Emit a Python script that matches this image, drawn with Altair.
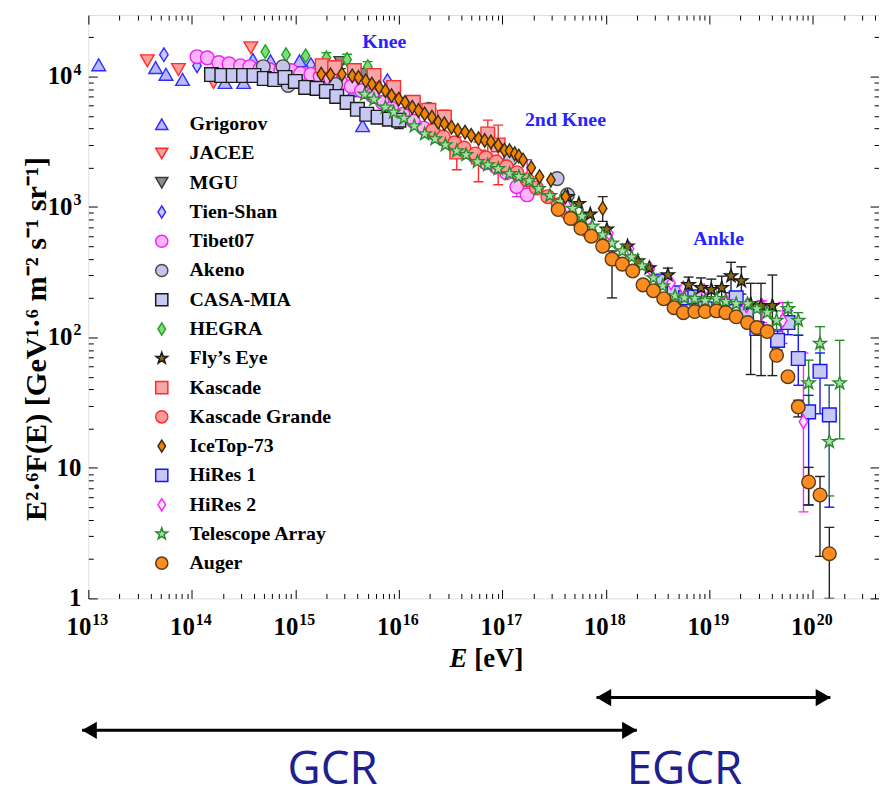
import altair as alt
import pandas as pd

FONT = "Liberation Serif"

# ---------------- legend / styling tables ----------------
experiments = ["Grigorov", "JACEE", "MGU", "Tien-Shan", "Tibet07", "Akeno", "CASA-MIA", "HEGRA",
               "Fly’s Eye", "Kascade", "Kascade Grande", "IceTop-73", "HiRes 1", "HiRes 2",
               "Telescope Array", "Auger"]
DIAMOND = "M0,-1L0.62,0L0,1L-0.62,0Z"
STAR = ("M0,-1L0.235,-0.324L0.951,-0.309L0.38,0.124L0.588,0.809L0,0.4L-0.588,0.809"
        "L-0.38,0.124L-0.951,-0.309L-0.235,-0.324Z")
shapes = ["triangle-up", "triangle-down", "triangle-down", DIAMOND, "circle", "circle", "square",
          DIAMOND, STAR, "square", "circle", DIAMOND, "square", DIAMOND, STAR, "circle"]
fills = ["#b8b8ff", "#ff9c9c", "#8c8c8c", "#c8c8ff", "#ffb4ff", "#c4c4ea", "#c8c8f4", "#7ede7e",
         "#8b6a10", "#f6a6a6", "#ff9a9a", "#f08400", "#c8c8f8", "#ffe6ff", "#a8dca8", "#ff8c1e"]
strokes = ["#2d2dff", "#ff2a2a", "#3a3a3a", "#2d2dff", "#ee22ee", "#4a4a4a", "#1a1a1a", "#22a022",
           "#1a1a1a", "#ff2a2a", "#ff2a2a", "#3a2a14", "#1414ff", "#ff22ff", "#2a8a2a", "#5a3c14"]
errcolors = ["#2d2dff", "#ff2a2a", "#222222", "#2d2dff", "#ee22ee", "#4a4a4a", "#1a1a1a", "#22a022",
             "#222222", "#ff2a2a", "#ff2a2a", "#222222", "#1414ff", "#ff22ff", "#2a8a2a", "#222222"]
draw_order = ["Grigorov", "JACEE", "MGU", "Tien-Shan", "HEGRA", "Tibet07", "Akeno", "CASA-MIA",
              "Kascade", "Kascade Grande", "HiRes 1", "HiRes 2", "Fly’s Eye", "Telescope Array",
              "Auger", "IceTop-73"]

# ---------------- data (log10 E [eV], E^2.6 F(E)) ----------------
grigorov_logE = [13.10, 13.65, 13.75, 13.91, 14.32, 14.50, 14.59, 14.76, 15.04, 15.57, 15.65]
grigorov_F = [12300, 11700, 10400, 9500, 9000, 9000, 13500, 13200, 13200, 7800, 4200]

jacee_logE = [13.57, 13.87, 14.21, 14.57]
jacee_F = [13200, 11300, 9000, 16600]

mgu_logE = [15.44, 15.67, 16.00]
mgu_F = [12800, 10400, 4600]
mgu_lo = [11500, 9400, 4000]
mgu_hi = [14200, 11500, 5200]

tienshan_logE = [13.73, 14.05, 15.15, 15.89]
tienshan_F = [14700, 12100, 12300, 9300]

tibet_logE = [14.05, 14.15, 14.26, 14.36, 14.47, 14.56, 14.66, 14.75, 14.86, 14.96, 15.05, 15.15,
              15.24, 15.34, 15.44, 15.54, 15.64, 15.74, 15.84, 15.93, 16.04, 16.14, 16.24, 16.34,
              16.43, 16.54, 16.63, 16.74, 16.84, 16.94, 17.04, 17.14, 17.24]
tibet_F = [14200, 13900, 12800, 12500, 12100, 11900, 11500, 11300, 11100, 11100, 10500, 10400,
           10000, 9660, 9000, 8400, 7800, 7170, 6340, 5710, 5140, 4550, 4020, 3690,
           3320, 2990, 2690, 2420, 2180, 2030, 1830, 1430, 1240]
tibet_lo = [None] * 31 + [1200, 1140]
tibet_hi = [None] * 31 + [1800, 2300]

akeno_logE = [14.69, 14.88, 14.93, 15.39, 16.29, 17.08, 17.53, 17.63]
akeno_F = [11900, 11900, 8540, 8690, 5610, 2340, 1650, 1240]

casa_logE = [14.19, 14.29, 14.40, 14.50, 14.60, 14.70, 14.80, 14.90, 15.00, 15.10, 15.21, 15.30,
             15.40, 15.50, 15.60, 15.69, 15.80, 15.91, 16.00]
casa_F = [10350, 10180, 10180, 10180, 10180, 9660, 9490, 9830, 9170, 8250, 8110, 7690,
          7040, 6340, 5610, 5140, 4880, 4710, 4630]

hegra_logE = [14.71, 14.91, 15.10, 15.30, 15.50, 15.70]
hegra_F = [15500, 14700, 14400, 13900, 13500, 11900]
hegra_lo = [None, None, None, 12800, 12400, 10900]
hegra_hi = [None, None, None, 15200, 14800, 13000]

flyseye_logE = [17.63, 17.74, 17.85, 18.01, 18.21, 18.31, 18.42, 18.60, 18.80, 18.92, 19.02,
                19.12, 19.21, 19.31, 19.40, 19.50, 19.61]
flyseye_F = [1200, 1060, 880, 674, 501, 385, 341, 301, 253, 240, 232, 240, 296, 271, 181, 175, 175]
flyseye_lo = [None] * 7 + [250, 215, 210, 205, 205, 220, 215, 52, 51, 51]
flyseye_hi = [None] * 7 + [340, 290, 286, 280, 295, 377, 348, 260, 260, 301]

kascade_logE = [15.26, 15.38, 15.57, 15.76, 15.95, 16.14, 16.29, 16.44, 16.56, 16.77, 16.86, 16.96]
kascade_F = [12100, 11700, 11100, 10180, 8250, 6340, 5510, 4880, 2640, 2420, 3630, 2990]
kascade_lo = [None] * 7 + [4300, 1930, 1560, 2550, 1480]
kascade_hi = [None] * 7 + [5510, 3440, 3150, 4630, 4240]

kgrande_logE = [16.33, 16.43, 16.54, 16.63, 16.74, 16.84, 16.94, 17.04, 17.14, 17.24, 17.33, 17.44,
                17.54, 17.63, 17.74, 17.83]
kgrande_F = [3890, 3440, 3100, 2830, 2550, 2380, 2220, 2030, 1830, 1620, 1400, 1200,
             1040, 900, 776, 651]

icetop_logE = [15.25, 15.34, 15.45, 15.55, 15.61, 15.68, 15.74, 15.81, 15.87, 15.93, 16.00, 16.06,
               16.13, 16.19, 16.25, 16.32, 16.38, 16.44, 16.51, 16.57, 16.64, 16.70, 16.77, 16.83,
               16.89, 16.96, 17.02, 17.07, 17.12, 17.16, 17.20, 17.28, 17.36, 17.47, 17.61, 17.97]
icetop_F = [10410, 10300, 10410, 10120, 9830, 9270, 8740, 8250, 7790, 7130, 6720, 6340,
            5810, 5490, 5170, 4880, 4470, 4340, 4090, 3870, 3750, 3540, 3340, 3240,
            3150, 2970, 2720, 2700, 2560, 2450, 2290, 2000, 1710, 1610, 1200, 975]
icetop_lo = [None] * 35 + [776]
icetop_hi = [None] * 35 + [1200]

hires1_logE = [18.55, 18.66, 18.77, 18.86, 18.96, 19.26, 19.36, 19.46, 19.66, 19.76, 19.86, 19.96,
               20.07, 20.16]
hires1_F = [271, 220, 201, 205, 166, 201, 155, 117, 95, 130, 69, 26.9, 55, 25.5]
hires1_lo = [None] * 8 + [80, 105, 43, 5.2, 26, 5.0]
hires1_hi = [None] * 8 + [112, 160, 104, 36, 76, 43]

hires2_logE = [17.63, 17.83, 18.03, 18.23, 18.43, 18.63, 18.75, 18.95, 19.16, 19.36, 19.51, 19.71,
               19.91]
hires2_F = [1010, 800, 630, 478, 336, 262, 240, 228, 191, 175, 175, 135, 22.6]
hires2_lo = [None] * 10 + [130, 90, 4.6]
hires2_hi = [None] * 10 + [191, 185, 76]

ta_logE = [15.67, 15.76, 15.87, 15.95, 16.05, 16.15, 16.25, 16.35, 16.45, 16.56, 16.65, 16.76,
           16.86, 16.96, 17.07, 17.16, 17.26, 17.35, 17.46, 17.56, 17.68, 17.77, 17.87, 17.97,
           18.06, 18.16, 18.25, 18.35, 18.46, 18.55, 18.67, 18.76, 18.86, 18.96, 19.07, 19.16,
           19.26, 19.37, 19.46, 19.56, 19.65, 19.76, 19.86, 19.96, 20.07, 20.16, 20.26]
ta_F = [7300, 6680, 5810, 5320, 4790, 4170, 3630, 3320, 2990, 2690, 2510, 2220,
        2100, 1960, 1800, 1710, 1590, 1380, 1220, 1100, 975, 847, 711, 610,
        528, 459, 413, 353, 286, 248, 208, 201, 198, 191, 198, 188,
        181, 181, 166, 155, 135, 166, 135, 44.7, 90, 15.9, 44.7]
ta_lo = [None] * 40 + [115, 140, 104, 29, 55, 6.1, 16.7]
ta_hi = [None] * 40 + [160, 185, 155, 67, 121, 43, 95]

auger_logE = [17.54, 17.66, 17.76, 17.86, 17.97, 18.06, 18.16, 18.26, 18.36, 18.46, 18.56, 18.66,
              18.75, 18.86, 18.96, 19.07, 19.16, 19.26, 19.37, 19.46, 19.56, 19.65, 19.76, 19.86,
              19.96, 20.07, 20.16]
auger_F = [957, 818, 687, 597, 501, 399, 365, 323, 253, 228, 198, 169,
           155, 158, 158, 160, 155, 144, 130, 119, 111, 73, 50, 29.4,
           7.8, 6.2, 2.2]
auger_lo = [None] * 5 + [201] + [None] * 17 + [24.6, 5.2, 2.1, 1.0]
auger_hi = [None] * 5 + [460] + [None] * 17 + [33, 10.1, 8.6, 3.5]

series = {
    "Grigorov": (grigorov_logE, grigorov_F, None, None),
    "JACEE": (jacee_logE, jacee_F, None, None),
    "MGU": (mgu_logE, mgu_F, mgu_lo, mgu_hi),
    "Tien-Shan": (tienshan_logE, tienshan_F, None, None),
    "Tibet07": (tibet_logE, tibet_F, tibet_lo, tibet_hi),
    "Akeno": (akeno_logE, akeno_F, None, None),
    "CASA-MIA": (casa_logE, casa_F, None, None),
    "HEGRA": (hegra_logE, hegra_F, hegra_lo, hegra_hi),
    "Fly’s Eye": (flyseye_logE, flyseye_F, flyseye_lo, flyseye_hi),
    "Kascade": (kascade_logE, kascade_F, kascade_lo, kascade_hi),
    "Kascade Grande": (kgrande_logE, kgrande_F, None, None),
    "IceTop-73": (icetop_logE, icetop_F, icetop_lo, icetop_hi),
    "HiRes 1": (hires1_logE, hires1_F, hires1_lo, hires1_hi),
    "HiRes 2": (hires2_logE, hires2_F, hires2_lo, hires2_hi),
    "Telescope Array": (ta_logE, ta_F, ta_lo, ta_hi),
    "Auger": (auger_logE, auger_F, auger_lo, auger_hi),
}

# annotations
knee_labels = ["Knee", "2nd Knee", "Ankle"]
knee_logE = [15.86, 17.61, 19.09]
knee_F = [18300, 4630, 566]

range_labels = ["GCR", "EGCR"]
range_label_logE = [15.36, 18.76]
gcr_arrow_logE = [12.94, 18.30]
egcr_arrow_logE = [17.91, 20.17]

# tick labels: "10" with exponent
x_exponents = [13, 14, 15, 16, 17, 18, 19, 20]
y_plain_labels = ["1", "10"]
y_plain_values = [1, 10]
y_exponents = [2, 3, 4]

x_major = [10.0 ** n for n in range(13, 21)]
x_minor = [k * 10.0 ** n for n in range(13, 21) for k in range(2, 10) if k * 10.0 ** n < 10 ** 20.64]
y_major = [1, 10, 100, 1000, 10000]
y_minor = [k * 10.0 ** n for n in range(0, 5) for k in range(2, 10) if k * 10.0 ** n < 10 ** 4.47]

# ---------------- build tables ----------------
rows, erows = [], []
for exp, (lx, fv, lo, hi) in series.items():
    i = experiments.index(exp)
    for j, (a, b) in enumerate(zip(lx, fv)):
        rows.append({"exp": exp, "E": 10 ** a, "F": b, "rank": draw_order.index(exp)})
        if lo is not None and lo[j] is not None:
            erows.append({"exp": exp, "E": 10 ** a, "lo": lo[j], "hi": hi[j], "ecol": errcolors[i]})
pts = pd.DataFrame(rows)
errs = pd.DataFrame(erows)

W, H = 797, 588
xscale = alt.Scale(type="log", domain=[1e13, 10 ** 20.64], nice=False)
yscale = alt.Scale(type="log", domain=[1, 10 ** 4.471], nice=False)


def axis_layer(xaxis=None, yaxis=None):
    return alt.Chart(pts).mark_point(opacity=0).encode(
        x=alt.X("E:Q", scale=xscale, axis=xaxis),
        y=alt.Y("F:Q", scale=yscale, axis=yaxis),
    )


tick_common = dict(labels=False, domain=False, grid=False, title=None, tickColor="black", tickWidth=1)

layers = [
    axis_layer(xaxis=alt.Axis(orient="top", offset=-H, values=x_major, tickSize=9, **tick_common)),
    axis_layer(xaxis=alt.Axis(orient="top", offset=-H, values=x_minor, tickSize=5, **tick_common)),
    axis_layer(xaxis=alt.Axis(orient="bottom", offset=-H, values=x_major, tickSize=9, **tick_common)),
    axis_layer(xaxis=alt.Axis(orient="bottom", offset=-H, values=x_minor, tickSize=5, **tick_common)),
    axis_layer(yaxis=alt.Axis(orient="left", values=y_major, labels=False, ticks=False,
                              domain=False, grid=False,
                              title="E²·⁶F(E) [GeV¹·⁶ m⁻² s⁻¹ sr⁻¹]", titleFont=FONT,
                              titleFontSize=30.5, titleFontWeight="bold", titleColor="black",
                              titleAngle=-90, titleX=-52, titleY=326, titleBaseline="middle",
                              titleAlign="center")),
    axis_layer(yaxis=alt.Axis(orient="right", offset=-W, values=y_major, tickSize=9, **tick_common)),
    axis_layer(yaxis=alt.Axis(orient="right", offset=-W, values=y_minor, tickSize=5, **tick_common)),
    axis_layer(yaxis=alt.Axis(orient="left", offset=-W, values=y_major, tickSize=9, **tick_common)),
    axis_layer(yaxis=alt.Axis(orient="left", offset=-W, values=y_minor, tickSize=5, **tick_common)),
]

X = lambda f="E:Q": alt.X(f, scale=xscale, axis=None)
Y = lambda f: alt.Y(f, scale=yscale, axis=None)

# tick labels as text (base "10" + smaller exponent)
xlab_df = pd.DataFrame({"E": [10.0 ** n for n in x_exponents], "base": "10",
                        "exp": [str(n) for n in x_exponents]})
xlab_base = alt.Chart(xlab_df).mark_text(font=FONT, fontSize=25, fontWeight="bold", align="right",
                                         baseline="alphabetic", dx=3, color="black").encode(
    x=X(), y=alt.value(H + 37), text="base:N")
xlab_exp = alt.Chart(xlab_df).mark_text(font=FONT, fontSize=16, fontWeight="bold", align="left",
                                        baseline="alphabetic", dx=4, color="black").encode(
    x=X(), y=alt.value(H + 27), text="exp:N")

yplain_df = pd.DataFrame({"F": y_plain_values, "t": y_plain_labels})
ylab_plain = alt.Chart(yplain_df).mark_text(font=FONT, fontSize=25, fontWeight="bold", align="right",
                                            baseline="alphabetic", dy=8, color="black").encode(
    x=alt.value(-7), y=Y("F:Q"), text="t:N")
yexp_df = pd.DataFrame({"F": [10.0 ** n for n in y_exponents], "base": "10",
                        "exp": [str(n) for n in y_exponents]})
ylab_base = alt.Chart(yexp_df).mark_text(font=FONT, fontSize=25, fontWeight="bold", align="right",
                                         baseline="alphabetic", dy=8, color="black").encode(
    x=alt.value(-16), y=Y("F:Q"), text="base:N")
ylab_exp = alt.Chart(yexp_df).mark_text(font=FONT, fontSize=16, fontWeight="bold", align="left",
                                        baseline="alphabetic", dy=-2, color="black").encode(
    x=alt.value(-15), y=Y("F:Q"), text="exp:N")

err_rule = alt.Chart(errs).mark_rule(strokeWidth=1.4, clip=True).encode(
    x=X(), y=Y("lo:Q"), y2="hi:Q", color=alt.Color("ecol:N", scale=None))
err_lo = alt.Chart(errs).mark_tick(orient="horizontal", size=10, thickness=1.4, opacity=1, clip=True).encode(
    x=X(), y=Y("lo:Q"), color=alt.Color("ecol:N", scale=None))
err_hi = alt.Chart(errs).mark_tick(orient="horizontal", size=10, thickness=1.4, opacity=1, clip=True).encode(
    x=X(), y=Y("hi:Q"), color=alt.Color("ecol:N", scale=None))

leg = alt.Legend(orient="none", legendX=64, legendY=100, title=None, padding=0,
                 labelFont=FONT, labelFontSize=20, labelFontWeight="bold", labelColor="black",
                 symbolSize=150, symbolStrokeWidth=1.5, rowPadding=9.5, labelOffset=18,
                 labelLimit=400, symbolOpacity=1)

points = alt.Chart(pts).mark_point(filled=True, opacity=1, size=190, strokeWidth=1.4).encode(
    x=X(), y=Y("F:Q"),
    shape=alt.Shape("exp:N", scale=alt.Scale(domain=experiments, range=shapes), legend=leg),
    fill=alt.Fill("exp:N", scale=alt.Scale(domain=experiments, range=fills), legend=leg),
    stroke=alt.Stroke("exp:N", scale=alt.Scale(domain=experiments, range=strokes), legend=leg),
    order=alt.Order("rank:Q"),
)

knee_df = pd.DataFrame({"label": knee_labels, "E": [10 ** v for v in knee_logE], "F": knee_F})
knees = alt.Chart(knee_df).mark_text(font=FONT, fontSize=20, fontWeight="bold", color="#2424ff").encode(
    x=X(), y=Y("F:Q"), text="label:N")

arrow_df = pd.DataFrame({
    "name": ["GCR", "EGCR"],
    "E1": [10 ** gcr_arrow_logE[0], 10 ** egcr_arrow_logE[0]],
    "E2": [10 ** gcr_arrow_logE[1], 10 ** egcr_arrow_logE[1]],
})
gcr_line = alt.Chart(arrow_df[arrow_df.name == "GCR"]).mark_rule(color="black", strokeWidth=3).encode(
    x=X("E1:Q"), x2="E2:Q", y=alt.value(721))
egcr_line = alt.Chart(arrow_df[arrow_df.name == "EGCR"]).mark_rule(color="black", strokeWidth=3).encode(
    x=X("E1:Q"), x2="E2:Q", y=alt.value(688))
heads_df = pd.DataFrame({
    "E": [10 ** (gcr_arrow_logE[0] + 0.07), 10 ** (gcr_arrow_logE[1] - 0.07),
          10 ** (egcr_arrow_logE[0] + 0.07), 10 ** (egcr_arrow_logE[1] - 0.07)],
    "dir": ["triangle-left", "triangle-right", "triangle-left", "triangle-right"],
    "row": ["GCR", "GCR", "EGCR", "EGCR"],
})
gcr_heads = alt.Chart(heads_df[heads_df.row == "GCR"]).mark_point(filled=True, opacity=1, color="black", size=300).encode(
    x=X(), y=alt.value(721), shape=alt.Shape("dir:N", scale=None))
egcr_heads = alt.Chart(heads_df[heads_df.row == "EGCR"]).mark_point(filled=True, opacity=1, color="black", size=300).encode(
    x=X(), y=alt.value(688), shape=alt.Shape("dir:N", scale=None))

range_df = pd.DataFrame({"label": range_labels, "E": [10 ** v for v in range_label_logE]})
range_text = alt.Chart(range_df).mark_text(font="Open Sans", fontSize=46, color="#1c2090",
                                          baseline="alphabetic").encode(
    x=X(), y=alt.value(775), text="label:N")

xt1 = alt.Chart(pd.DataFrame({"t": ["E"]})).mark_text(font=FONT, fontSize=27, fontWeight="bold",
                                                     fontStyle="italic", align="left",
                                                     baseline="alphabetic", color="black").encode(
    x=alt.value(364), y=alt.value(657), text="t:N")
xt2 = alt.Chart(pd.DataFrame({"t": ["[eV]"]})).mark_text(font=FONT, fontSize=27, fontWeight="bold",
                                                        align="left", baseline="alphabetic",
                                                        color="black").encode(
    x=alt.value(389), y=alt.value(657), text="t:N")

chart = alt.layer(
    *layers, xlab_base, xlab_exp, ylab_plain, ylab_base, ylab_exp,
    err_rule, err_lo, err_hi, points, knees,
    gcr_line, egcr_line, gcr_heads, egcr_heads, range_text, xt1, xt2
).resolve_axis(x="independent", y="independent").properties(
    width=W, height=H,
    padding={"left": 81, "top": 4, "right": 0, "bottom": 188},
    autosize=alt.AutoSizeParams(type="none"),
).configure_view(stroke="black", strokeWidth=1.3).configure(background="white")

chart.save("out.html", embed_options={"renderer": "svg", "actions": False})
